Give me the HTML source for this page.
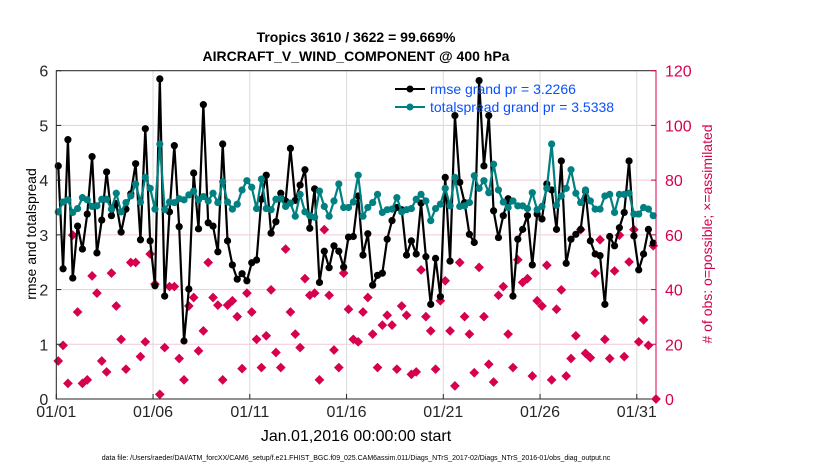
<!DOCTYPE html>
<html><head><meta charset="utf-8"><style>
body{margin:0;background:#fff;}
svg{display:block;font-family:"Liberation Sans",Arial,sans-serif;}
</style></head><body>
<svg id="chart" width="830" height="470" viewBox="0 0 830 470" xmlns="http://www.w3.org/2000/svg">
<rect width="830" height="470" fill="#fff"/>
<text x="356" y="42" text-anchor="middle" font-size="14" font-weight="bold">Tropics 3610 / 3622 = 99.669%</text>
<text x="356" y="61" text-anchor="middle" font-size="14" font-weight="bold">AIRCRAFT_V_WIND_COMPONENT @ 400 hPa</text>
<g id="grid"></g>
<g id="series"></g>
<g id="axes"></g>
<text transform="translate(36,234) rotate(-90)" text-anchor="middle" font-size="14">rmse and totalspread</text>
<text transform="translate(712,234) rotate(-90)" text-anchor="middle" font-size="14" fill="#d6004f"># of obs: o=possible; ×=assimilated</text>
<text x="356" y="441" text-anchor="middle" font-size="16">Jan.01,2016 00:00:00 start</text>
<text x="356" y="460" text-anchor="middle" font-size="7">data file: /Users/raeder/DAI/ATM_forcXX/CAM6_setup/f.e21.FHIST_BGC.f09_025.CAM6assim.011/Diags_NTrS_2017-02/Diags_NTrS_2016-01/obs_diag_output.nc</text>
<g>
<line x1="395" y1="89" x2="425" y2="89" stroke="#000" stroke-width="2"/><circle cx="410" cy="89" r="3.5" fill="#000"/>
<text x="430" y="94" font-size="14" fill="#0a50ff">rmse grand pr = 3.2266</text>
<line x1="395" y1="107" x2="425" y2="107" stroke="#008080" stroke-width="2"/><circle cx="410" cy="107" r="3.5" fill="#008080"/>
<text x="430" y="112" font-size="14" fill="#0a50ff">totalspread grand pr = 3.5338</text>
</g>
</svg>
<script>
const rmse=[4.26,2.38,4.74,2.21,3.16,2.74,3.38,4.43,2.67,3.27,4.15,3.35,3.57,3.05,3.47,3.75,4.30,2.91,4.94,2.89,2.07,5.85,1.88,3.42,4.63,3.15,1.06,2.01,4.13,3.11,5.38,3.22,3.16,2.69,4.66,2.89,2.45,2.19,2.29,2.16,2.49,
2.54,3.65,4.09,3.03,3.24,3.76,3.62,4.58,3.63,3.91,4.19,3.12,3.84,2.13,2.70,2.40,2.80,2.70,2.41,2.96,2.97,3.71,2.63,3.02,2.08,2.26,2.30,2.92,3.26,3.50,3.46,2.63,2.89,2.65,3.58,2.60,1.73,2.57,1.87,4.05,
2.52,5.18,3.96,3.59,3.01,2.86,5.82,4.26,5.18,3.44,2.95,3.35,3.66,1.88,2.92,3.10,3.35,2.45,3.38,3.29,3.93,3.82,3.10,4.35,2.48,2.92,3.01,3.10,3.80,2.89,2.65,2.62,1.73,2.97,2.80,3.13,3.41,4.35,2.98,2.36,2.65,3.1,2.85];
const spread=[3.42,3.60,3.64,3.41,3.48,3.68,3.64,3.52,3.53,3.65,3.65,3.47,3.76,3.42,3.59,3.71,3.93,3.60,4.05,3.85,3.47,4.66,3.46,3.60,3.59,3.66,3.64,3.73,3.80,3.64,3.70,3.62,3.76,3.59,3.97,3.60,3.47,3.56,3.82,3.99,3.87,
3.48,4.02,3.48,3.46,3.65,3.66,3.52,3.58,3.34,3.74,3.42,3.35,3.32,3.80,3.52,3.34,3.62,3.93,3.50,3.50,3.60,4.09,3.34,3.50,3.59,3.74,3.41,3.46,3.47,3.68,3.42,3.46,3.48,3.65,3.74,3.62,3.26,3.48,3.56,3.85,
3.53,4.05,3.52,3.53,3.59,4.08,3.85,3.99,3.77,4.29,3.82,3.60,3.50,3.62,3.53,3.53,3.48,3.77,3.46,3.52,3.85,4.66,3.54,3.71,3.85,4.19,3.76,3.59,3.82,3.62,3.47,3.47,3.71,3.74,3.41,3.74,3.74,3.76,3.38,3.38,3.50,3.47,3.35];
const nobs=[13.9,19.6,5.7,59.9,31.8,5.7,7.0,45.0,38.7,13.9,9.9,46.0,34.0,21.8,10.9,49.9,49.9,15.5,20.9,53.0,42.0,1.7,18.8,41.1,41.1,14.8,7.0,34.0,37.1,17.6,24.9,49.9,37.1,34.3,7.0,34.3,35.9,30.1,11.1,38.7,31.8,
21.8,11.5,23.1,39.9,17.0,11.5,54.8,31.8,23.7,18.8,44.0,37.9,38.7,7.0,61.9,37.9,17.9,11.5,46.0,32.8,21.8,20.9,31.8,37.1,23.7,11.5,27.0,30.6,27.0,10.9,34.0,30.6,9.0,9.9,47.2,30.1,24.9,10.9,35.9,43.2,
24.9,4.8,49.9,30.1,23.7,9.6,48.1,30.1,12.7,6.2,37.9,41.1,23.7,11.5,50.9,42.6,44.0,8.4,35.9,34.0,48.9,7.0,32.8,39.9,8.4,14.8,23.1,61.9,16.7,15.1,46.0,58.2,21.8,14.8,46.8,59.9,15.5,50.1,61.9,20.9,28.9,19.6,56.0,0];
const xTickLabels=["01/01","01/06","01/11","01/16","01/21","01/26","01/31"];
const xTickDays=[0,5,10,15,20,25,30];
const yLeftTicks=[0,1,2,3,4,5,6];
const yRightTicks=[0,20,40,60,80,100,120];

const X0=56.3,X1=656,Y0=399,Y1=70.7;
const xs=d=>X0+d*19.35;
const yl=v=>Y0-v*(Y0-Y1)/6;
const yr=v=>Y0-v*(Y0-Y1)/120;
const tOf=i=>0.1+i*0.25;
const NS="http://www.w3.org/2000/svg";
function mk(parent,tag,attrs){const e=document.createElementNS(NS,tag);for(const k in attrs)e.setAttribute(k,attrs[k]);parent.appendChild(e);return e;}
const grid=document.getElementById('grid'),ser=document.getElementById('series'),axes=document.getElementById('axes');
yLeftTicks.forEach(v=>{const l=mk(grid,'line',{x1:X0,x2:X1,y1:yl(v),y2:yl(v),stroke:'#f3c9d8','stroke-width':1});

});
xTickDays.forEach(d=>{const l=mk(grid,'line',{x1:xs(d),x2:xs(d),y1:Y1,y2:Y0,stroke:'#dcdcdc','stroke-width':1});

});
nobs.forEach((v,i)=>{const x=Math.min(xs(tOf(i)),X1),y=yr(v);
const p=mk(ser,'path',{d:`M${x-4},${y}L${x},${y-4}L${x+4},${y}L${x},${y+4}Z`,fill:'#d6004f',stroke:'#d6004f','stroke-width':1.2});

});
function series(arr,color,name){
const pts=arr.map((v,i)=>[xs(tOf(i)),yl(v)]);
const pl=mk(ser,'polyline',{points:pts.map(p=>p.join(',')).join(' '),fill:'none',stroke:color,'stroke-width':2.2,'stroke-linejoin':'round'});


pts.forEach(p=>{const c=mk(ser,'circle',{cx:p[0],cy:p[1],r:3.6,fill:color});

});}
series(rmse,'#000','rmse');
series(spread,'#008080','totalspread');
mk(axes,'rect',{x:X0,y:Y1,width:X1-X0,height:Y0-Y1,fill:'none',stroke:'#262626','stroke-width':1});
mk(axes,'line',{x1:X1,x2:X1,y1:Y1,y2:Y0,stroke:'#d6004f','stroke-width':1});
yLeftTicks.forEach(v=>{mk(axes,'line',{x1:X0,x2:X0+5,y1:yl(v),y2:yl(v),stroke:'#262626'});
const t=mk(axes,'text',{x:X0-8,y:yl(v)+6,'text-anchor':'end','font-size':16,fill:'#262626'});t.textContent=v;

});
yRightTicks.forEach(v=>{mk(axes,'line',{x1:X1-5,x2:X1,y1:yr(v),y2:yr(v),stroke:'#d6004f'});
const t=mk(axes,'text',{x:X1+9,y:yr(v)+6,'font-size':16,fill:'#d6004f'});t.textContent=v;

});
xTickDays.forEach((d,i)=>{mk(axes,'line',{x1:xs(d),x2:xs(d),y1:Y0,y2:Y0-5,stroke:'#262626'});
const t=mk(axes,'text',{x:xs(d),y:Y0+18,'text-anchor':'middle','font-size':16,fill:'#262626'});t.textContent=xTickLabels[i];

});
</script>
</body></html>
